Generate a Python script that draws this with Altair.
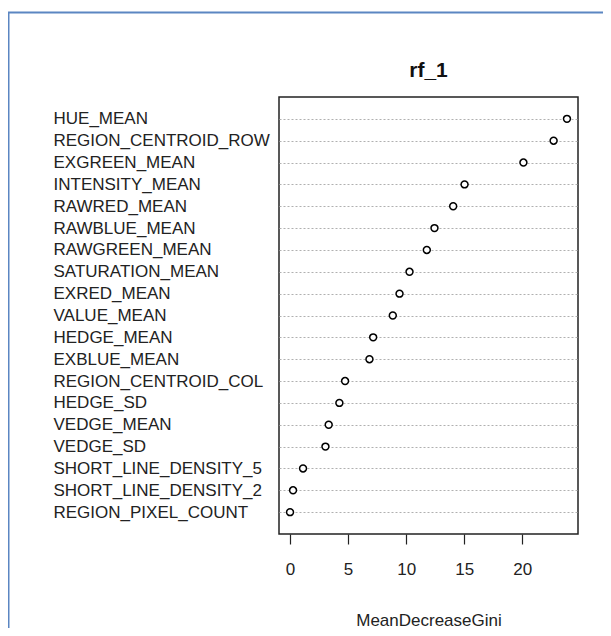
import altair as alt
import pandas as pd

features = [
    "HUE_MEAN", "REGION_CENTROID_ROW", "EXGREEN_MEAN", "INTENSITY_MEAN",
    "RAWRED_MEAN", "RAWBLUE_MEAN", "RAWGREEN_MEAN", "SATURATION_MEAN",
    "EXRED_MEAN", "VALUE_MEAN", "HEDGE_MEAN", "EXBLUE_MEAN",
    "REGION_CENTROID_COL", "HEDGE_SD", "VEDGE_MEAN", "VEDGE_SD",
    "SHORT_LINE_DENSITY_5", "SHORT_LINE_DENSITY_2", "REGION_PIXEL_COUNT",
]
gini = [
    23.85, 22.7, 20.1, 15.03, 14.05, 12.44, 11.78, 10.29, 9.43, 8.85,
    7.16, 6.84, 4.74, 4.25, 3.33, 3.05, 1.12, 0.26, 0.0,
]
x_ticks = [0, 5, 10, 15, 20]
title_text = "rf_1"
x_title = "MeanDecreaseGini"

df = pd.DataFrame({"feature": features, "MeanDecreaseGini": gini})

FONT = "Liberation Sans"

points = alt.Chart(df).mark_point(
    shape="circle", filled=False, fill="white", fillOpacity=1,
    stroke="black", strokeWidth=1.5, size=48, opacity=1,
).encode(
    x=alt.X(
        "MeanDecreaseGini:Q",
        scale=alt.Scale(domain=[-0.95, 24.8], nice=False, zero=False),
        axis=alt.Axis(
            values=x_ticks, title=x_title, grid=False, domain=False,
            tickColor="#222", tickSize=10, tickWidth=1.2,
            labelFont=FONT, labelFontSize=17, labelColor="#222",
            labelPadding=17, labelFlush=False,
            titleFont=FONT, titleFontSize=17, titleFontWeight="normal",
            titleColor="#222", titlePadding=35,
        ),
    ),
    y=alt.Y(
        "feature:N", sort=features,
        scale=alt.Scale(type="point", padding=1.03),
        axis=alt.Axis(
            title=None, ticks=False, domain=False,
            labelAlign="left", labelBaseline="middle", labelPadding=226,
            labelLimit=400, labelFont=FONT, labelFontSize=17, labelColor="#222",
            grid=True, gridColor="#b0b0b0", gridDash=[2, 2], gridWidth=1,
        ),
    ),
)

single = alt.Chart(pd.DataFrame({"label": [title_text]}))
title_mark = single.mark_text(
    font=FONT, fontSize=21, fontWeight="bold", color="#111",
    align="center", baseline="alphabetic",
).encode(
    x=alt.value(149.5), y=alt.value(-20), text="label:N"
)

left_border = single.mark_rule(color="#5b86c2", strokeWidth=2).encode(
    x=alt.value(-270.5), y=alt.value(-85), y2=alt.value(540)
)
top_border = single.mark_rule(color="#5b86c2", strokeWidth=2).encode(
    x=alt.value(-271.5), x2=alt.value(340), y=alt.value(-84.5)
)

chart = alt.layer(left_border, top_border, title_mark, points).properties(
    width=299,
    height=437,
    background="white",
    autosize=alt.AutoSizeParams(type="none"),
    padding={"left": 271, "top": 89, "right": 25, "bottom": 94},
).configure_view(
    stroke="#222", strokeWidth=1.5
)

chart.save("out.html", embed_options={"renderer": "svg", "actions": False})
